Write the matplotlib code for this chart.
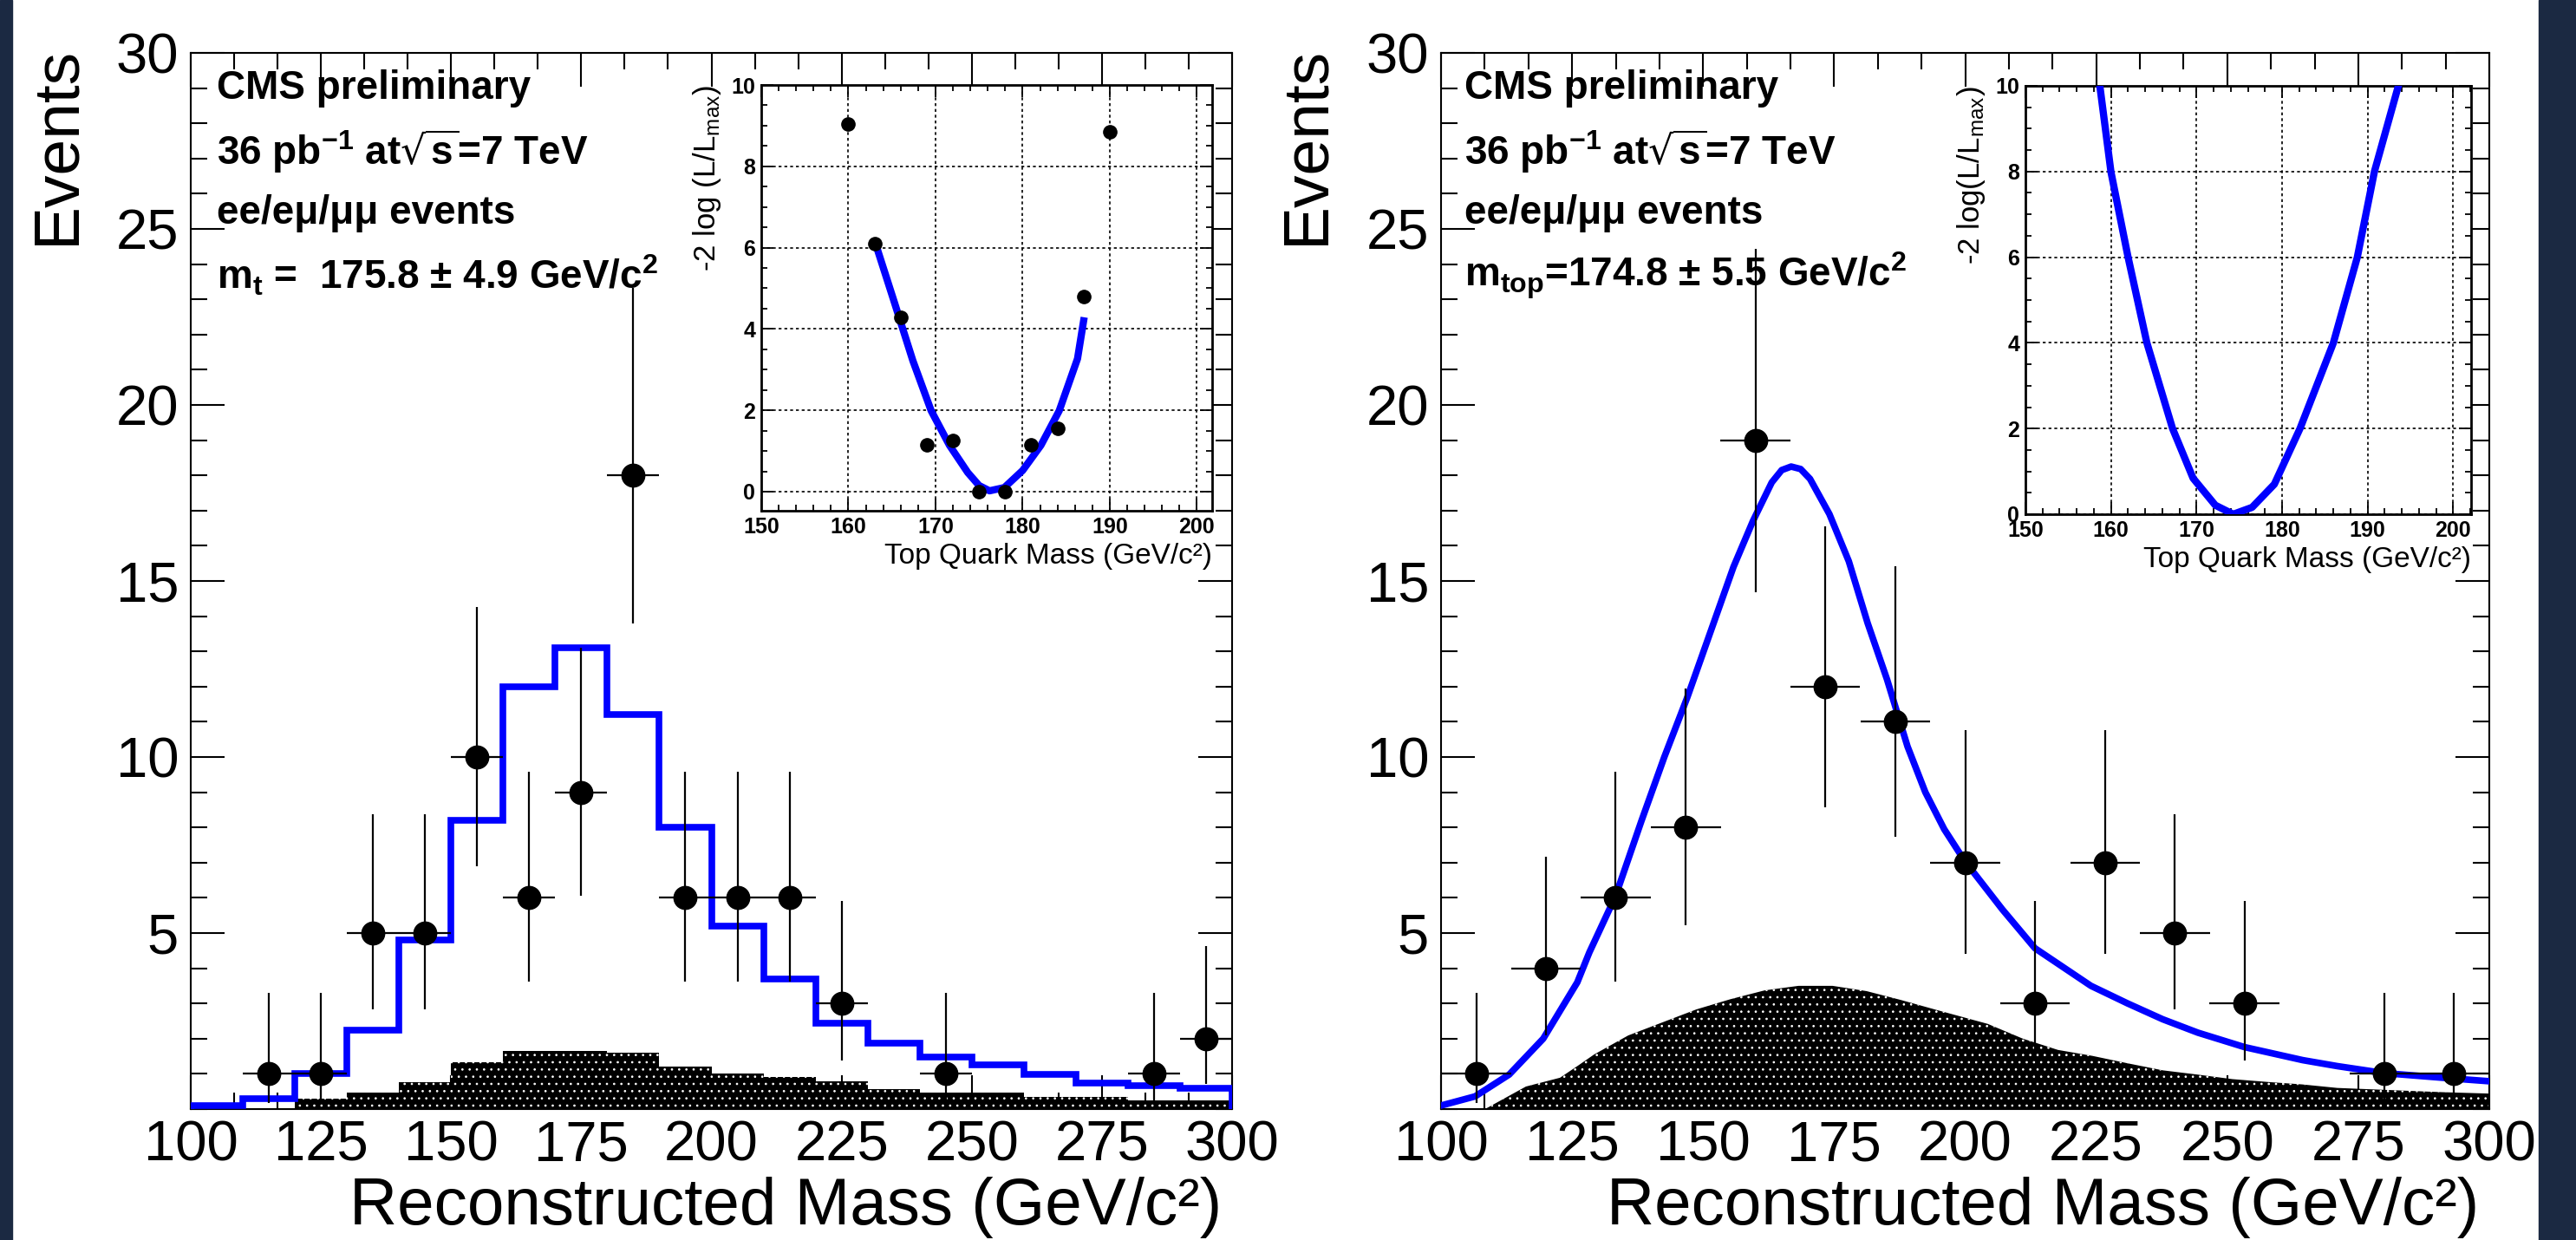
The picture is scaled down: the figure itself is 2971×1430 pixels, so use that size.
import matplotlib
matplotlib.use('Agg')
import matplotlib.pyplot as plt
from matplotlib.patches import Rectangle
from matplotlib.ticker import FixedLocator, MultipleLocator

plt.rcParams['font.family'] = ['Liberation Sans', 'DejaVu Sans']
plt.rcParams['mathtext.default'] = 'regular'
plt.rcParams['hatch.linewidth'] = 0.7

# ---------------- left panel: 10 GeV bins ----------------
left_edges = [100, 110, 120, 130, 140, 150, 160, 170, 180, 190, 200,
              210, 220, 230, 240, 250, 260, 270, 280, 290, 300]
left_signal = [0.1, 0.3, 1.0, 2.25, 4.8, 8.2, 12.0, 13.1, 11.2, 8.0,
               5.2, 3.7, 2.45, 1.88, 1.49, 1.26, 0.98, 0.75, 0.67, 0.59]
left_bkg = [0, 0, 0.3, 0.48, 0.77, 1.34, 1.65, 1.65, 1.6, 1.2,
            1.02, 0.9, 0.79, 0.57, 0.48, 0.48, 0.34, 0.34, 0.24, 0.24]
left_x = [115, 125, 135, 145, 155, 165, 175, 185, 195, 205, 215, 225, 245, 285, 295]
left_n = [1, 1, 5, 5, 10, 6, 9, 18, 6, 6, 6, 3, 1, 1, 2]
left_elo = [0.83, 0.83, 2.16, 2.16, 3.11, 2.38, 2.94, 4.2, 2.38, 2.38, 2.38, 1.63, 0.83, 0.83, 1.29]
left_ehi = [2.3, 2.3, 3.38, 3.38, 4.27, 3.58, 4.11, 5.32, 3.58, 3.58, 3.58, 2.92, 2.3, 2.3, 2.64]
left_xerr = 5

# ---------------- right panel: 13.3 GeV bins ----------------
right_x = [106.7, 120, 133.3, 146.7, 160, 173.3, 186.7, 200, 213.3, 226.7, 240, 253.3, 280, 293.3]
right_n = [1, 4, 6, 8, 19, 12, 11, 7, 3, 7, 5, 3, 1, 1]
right_elo = [0.83, 1.91, 2.38, 2.77, 4.32, 3.42, 3.27, 2.58, 1.63, 2.58, 2.16, 1.63, 0.83, 0.83]
right_ehi = [2.3, 3.16, 3.58, 3.95, 5.43, 4.56, 4.42, 3.77, 2.92, 3.77, 3.38, 2.92, 2.3, 2.3]
right_xerr = 6.67

fit_x = [100, 106.5, 113, 119.5, 126, 128.3, 133.3, 138.2, 142.6, 147, 151.4, 155.8,
         159.5, 163.1, 165.0, 166.8, 168.6, 170.4, 174.1, 177.8, 181.4, 185.1, 189.0,
         192.4, 196.0, 199.9, 207.1, 213.3, 224, 231, 237.7, 244.4, 253.3, 264.4,
         271, 280, 291, 300]
fit_y = [0.1, 0.36, 0.98, 2.0, 3.6, 4.45, 6.05, 8.17, 10.0, 11.7, 13.55, 15.4,
         16.7, 17.8, 18.15, 18.25, 18.18, 17.9, 16.9, 15.56, 13.8, 12.2, 10.3,
         9.0, 7.95, 7.05, 5.67, 4.57, 3.5, 3.0, 2.55, 2.17, 1.76, 1.39,
         1.22, 1.02, 0.89, 0.79]

bkg_x = [100, 108.4, 116.2, 122.7, 126, 129.2, 135.7, 142.2, 148.7, 155.2, 161.7, 168.2,
         174.7, 181.2, 187.7, 194.2, 204.3, 211, 217.7, 224.3, 231, 237.7, 244.3,
         251, 257.7, 264.3, 271, 277.7, 284.3, 291, 300]
bkg_y = [0, 0, 0.64, 0.89, 1.22, 1.55, 2.09, 2.46, 2.83, 3.12, 3.37, 3.5,
         3.5, 3.35, 3.1, 2.83, 2.42, 2.0, 1.68, 1.51, 1.3, 1.1, 0.98,
         0.85, 0.77, 0.7, 0.6, 0.56, 0.52, 0.48, 0.44]

# ---------------- insets: likelihood scans ----------------
scan_x = [160, 163, 166, 169, 172, 175, 178, 181, 184, 187, 190]
scan_y = [9.05, 6.1, 4.28, 1.16, 1.25, 0.0, 0.0, 1.15, 1.55, 4.8, 8.85]
scan_fit_x = [163.1, 165.3, 167.4, 169.5, 171.6, 173.7, 175.0, 176.2, 177.9,
              180.0, 182.1, 184.2, 186.3, 187.0]
scan_fit_y = [6.11, 4.64, 3.22, 1.99, 1.14, 0.47, 0.15, 0.02, 0.1,
              0.52, 1.14, 1.99, 3.27, 4.2]
nll_x = [158.7, 160.0, 162.0, 164.2, 167.2, 169.6, 172.2, 174.3, 176.5,
         179.1, 182.1, 186.0, 188.8, 190.8, 193.6]
nll_y = [10, 7.99, 6.0, 4.0, 2.0, 0.84, 0.21, 0.0, 0.16,
         0.7, 2.0, 4.0, 6.0, 8.0, 10]

W, H = 2971, 1430
fig = plt.figure(figsize=(W / 100, H / 100), dpi=100)
fig.patch.set_facecolor('white')
fig.add_artist(Rectangle((0, 0), 14 / W, 1, transform=fig.transFigure,
                         color='#1b2942', zorder=10))
fig.add_artist(Rectangle((2928 / W, 0), 1, 1, transform=fig.transFigure,
                         color='#1b2942', zorder=10))

BLUE = '#0000ff'


def style_main(ax):
    ax.set_xlim(100, 300)
    ax.set_ylim(0, 30)
    ax.xaxis.set_major_locator(MultipleLocator(25))
    ax.xaxis.set_minor_locator(MultipleLocator(25 / 3))
    ax.yaxis.set_major_locator(FixedLocator([5, 10, 15, 20, 25, 30]))
    ax.yaxis.set_minor_locator(MultipleLocator(1))
    ax.tick_params(which='both', direction='in', top=True, right=True, width=1.5)
    ax.tick_params(which='major', length=28, labelsize=47, pad=9)
    ax.tick_params(axis='y', which='major', pad=10)
    ax.tick_params(which='minor', length=14)
    for s in ax.spines.values():
        s.set_linewidth(1.5)
    ax.set_xlabel('Reconstructed Mass (GeV/c²)', fontsize=55, loc='right')
    ax.xaxis.set_label_coords(0.99, -0.064)
    ax.set_ylabel('Events', fontsize=54, loc='top')
    ax.yaxis.set_label_coords(-0.10, 1.007)


def style_inset(ax, ylo, xhi, ylabel):
    ax.set_xlim(150, xhi)
    ax.set_ylim(ylo, 10)
    ax.xaxis.set_major_locator(FixedLocator([150, 160, 170, 180, 190, 200]))
    ax.xaxis.set_minor_locator(MultipleLocator(2))
    ax.yaxis.set_major_locator(FixedLocator([0, 2, 4, 6, 8, 10]))
    ax.yaxis.set_minor_locator(MultipleLocator(0.5))
    ax.tick_params(which='both', direction='in', top=True, right=True, width=1.3)
    ax.tick_params(which='major', length=10, labelsize=18, pad=5)
    ax.tick_params(which='minor', length=5)
    for lbl in ax.get_xticklabels() + ax.get_yticklabels():
        lbl.set_fontweight('bold')
    for s in ax.spines.values():
        s.set_linewidth(2)
    ax.grid(True, which='major', color='black', linestyle=(0, (2, 2)), linewidth=1.2)
    ax.set_xlabel('Top Quark Mass (GeV/c²)', fontsize=24, loc='right')
    ax.xaxis.set_label_coords(1.0, -0.075)
    ax.set_ylabel(ylabel, fontsize=25, loc='top')
    ax.yaxis.set_label_coords(-0.085, 1.0)


# ---- left main panel
axL = fig.add_axes([220 / W, 151 / H, 1201 / W, 1218 / H])
axL.stairs(left_bkg, left_edges, fill=True, facecolor='black', edgecolor='white',
           linewidth=0, hatch='..', zorder=2)
axL.stairs(left_signal, left_edges, color=BLUE, linewidth=5.5, zorder=3)
axL.errorbar(left_x, left_n, xerr=left_xerr, yerr=[left_elo, left_ehi], fmt='o',
             color='black', ms=19, elinewidth=1.6, capsize=0, zorder=4)
style_main(axL)

txt = dict(transform=axL.transAxes, fontsize=33, fontweight='bold', va='center', ha='left')
axL.text(0.025, 0.966, 'CMS preliminary', **txt)
axL.text(0.025, 0.907, '36 pb$^{-1}$ at$\\sqrt{s}$=7 TeV', **txt)
axL.text(0.025, 0.848, 'ee/eμ/μμ events', **txt)
axL.text(0.025, 0.789, 'm$_t$ =  175.8 ± 4.9 GeV/c$^2$', **txt)

# ---- right main panel
axR = fig.add_axes([1662 / W, 151 / H, 1209 / W, 1218 / H])
axR.fill_between(bkg_x, bkg_y, 0, facecolor='black', edgecolor='white',
                 linewidth=0, hatch='..', zorder=2)
axR.plot(fit_x, fit_y, color=BLUE, linewidth=5.5, zorder=3)
axR.errorbar(right_x, right_n, xerr=right_xerr, yerr=[right_elo, right_ehi], fmt='o',
             color='black', ms=19, elinewidth=1.6, capsize=0, zorder=4)
style_main(axR)

txt = dict(transform=axR.transAxes, fontsize=33, fontweight='bold', va='center', ha='left')
axR.text(0.022, 0.966, 'CMS preliminary', **txt)
axR.text(0.022, 0.907, '36 pb$^{-1}$ at$\\sqrt{s}$=7 TeV', **txt)
axR.text(0.022, 0.848, 'ee/eμ/μμ events', **txt)
axR.text(0.022, 0.789, 'm$_{top}$=174.8 ± 5.5 GeV/c$^2$', **txt)

# ---- left inset
inL = fig.add_axes([878 / W, (H - 589) / H, 520 / W, 491 / H])
inL.plot(scan_fit_x, scan_fit_y, color=BLUE, linewidth=6, zorder=3)
inL.plot(scan_x, scan_y, 'o', color='black', ms=11, zorder=4)
style_inset(inL, -0.47, 201.75, '-2 log (L/L$_{max}$)')

# ---- right inset
inR = fig.add_axes([2336 / W, (H - 593) / H, 514 / W, 494 / H])
inR.plot(nll_x, nll_y, color=BLUE, linewidth=6, zorder=3)
style_inset(inR, 0, 202.1, '-2 log(L/L$_{max}$)')

fig.savefig('out.png', dpi=100, facecolor='white')
